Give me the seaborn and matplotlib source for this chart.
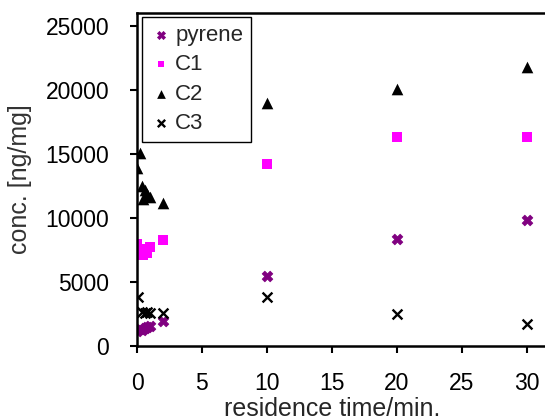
import matplotlib
matplotlib.use("Agg")
import matplotlib.pyplot as plt
import seaborn as sns
import pandas as pd

sns.set_style("white")
plt.rcParams['font.family'] = ['Liberation Sans', 'DejaVu Sans']

pyrene_t = [0, 0.2, 0.4, 0.6, 0.8, 1.0, 2, 10, 20, 30]
pyrene_v = [1200, 1300, 1250, 1400, 1450, 1550, 1950, 5500, 8350, 9800]

c1_t = [0, 0.2, 0.5, 0.8, 1.0, 2, 10, 20, 30]
c1_v = [8000, 7600, 7100, 7300, 7700, 8300, 14200, 16300, 16300]

c2_t = [0.2, 0, 0.4, 0.6, 0.8, 0.5, 1.0, 2, 10, 20, 30]
c2_v = [15100, 13900, 12500, 12200, 11900, 11500, 11600, 11200, 19000, 20100, 21800]

c3_t = [0.1, 0.4, 0.6, 0.8, 1.0, 2, 10, 20, 30]
c3_v = [3850, 2650, 2600, 2650, 2600, 2550, 3850, 2500, 1700]

fig = plt.figure(figsize=(5.45, 4.2), dpi=100)
ax = fig.add_axes([137/545, 74/420, 1 - 137/545, (346-13)/420])

kw = dict(ax=ax, legend=False)
sns.scatterplot(x=pyrene_t, y=pyrene_v, marker='X', s=60, color='#800080',
                edgecolor='#800080', linewidth=0.5, label='pyrene', **kw)
sns.scatterplot(x=c1_t, y=c1_v, marker='s', s=45, color='#FF00FF',
                edgecolor='#FF00FF', linewidth=0, label='C1', **kw)
sns.scatterplot(x=c2_t, y=c2_v, marker='^', s=70, color='black',
                edgecolor='black', linewidth=0, label='C2', **kw)
sns.scatterplot(x=c3_t, y=c3_v, marker='x', s=50, color='black',
                linewidth=1.7, label='C3', **kw)

ax.set_xlim(0, 31.4)
ax.set_ylim(0, 26000)
ax.set_xticks([0, 5, 10, 15, 20, 25, 30])
ax.set_yticks([0, 5000, 10000, 15000, 20000, 25000])
ax.tick_params(axis='both', direction='out', length=5, width=1.5, labelsize=16.5,
               left=True, bottom=True, colors='black')
ax.tick_params(axis='y', pad=15)
ax.tick_params(axis='x', pad=14)
for side in ['left', 'bottom', 'top']:
    ax.spines[side].set_color('black')
    ax.spines[side].set_linewidth(1.8)
ax.spines['right'].set_visible(False)

ax.set_xlabel('residence time/min.', fontsize=18)
ax.set_ylabel('conc. [ng/mg]', fontsize=18, color='#333333')
ax.xaxis.set_label_coords((332-137)/(545-137), -(409-346)/333)
ax.yaxis.set_label_coords(-(137-20)/408, 0.5)
ax.xaxis.label.set_va('center')
ax.yaxis.label.set_va('center')

leg = ax.legend(loc='upper left', bbox_to_anchor=(0.012, 0.988), fontsize=16,
                frameon=True, fancybox=False, edgecolor='black', framealpha=1,
                handletextpad=0.15, borderpad=0.35, labelspacing=0.38,
                markerscale=0.75, handlelength=1.0, borderaxespad=0)
leg.get_frame().set_linewidth(1.0)

fig.savefig('out.png', dpi=100)
